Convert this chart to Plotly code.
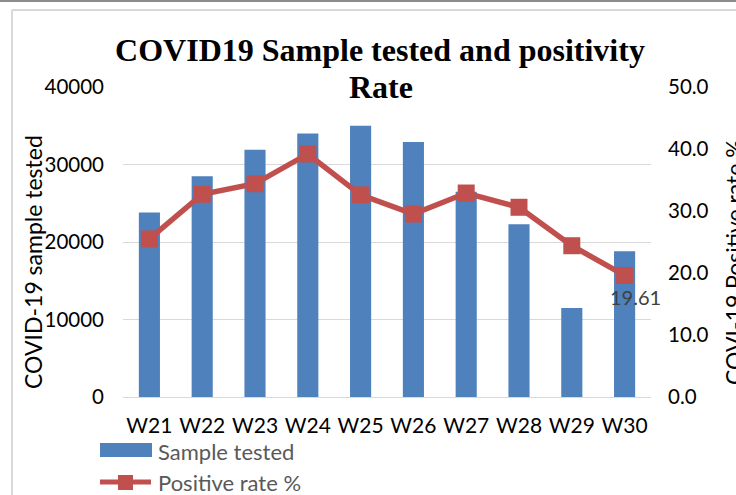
import plotly.graph_objects as go

weeks = ["W21", "W22", "W23", "W24", "W25", "W26", "W27", "W28", "W29", "W30"]
samples_tested = [23800, 28500, 31900, 34000, 35000, 32900, 26500, 22300, 11500, 18800]
positive_rate = [25.5, 32.7, 34.4, 39.2, 32.6, 29.5, 32.9, 30.6, 24.4, 19.61]
left_ticks = [0, 10000, 20000, 30000, 40000]
right_ticks = [0, 10, 20, 30, 40, 50]
last_label = "19.61"

W, H = 736, 495
ML, MR, MT, MB = 123, 85, 87, 98
PW, PH = W - ML - MR, H - MT - MB


def px(x):
    return (x - ML) / PW


def py(y):
    return (H - MB - y) / PH


BLUE = "#4F81BD"
RED = "#C0504D"
GRID = "#D9D9D9"
FONT = "Lato"
TFONT = "Liberation Serif"

fig = go.Figure()
fig.add_trace(go.Bar(
    x=weeks, y=samples_tested, name="Sample tested",
    marker=dict(color=BLUE, line=dict(width=0)), showlegend=False,
))
fig.add_trace(go.Scatter(
    x=weeks, y=positive_rate, name="Positive rate %", yaxis="y2",
    mode="lines+markers",
    line=dict(color=RED, width=5.5),
    marker=dict(symbol="square", size=17, color=RED),
    showlegend=False,
))

shapes = [
    # outer frame
    dict(type="line", xref="paper", yref="paper", x0=px(12), x1=px(740), y0=py(10), y1=py(10),
         line=dict(color=GRID, width=2)),
    dict(type="line", xref="paper", yref="paper", x0=px(12), x1=px(12), y0=py(10), y1=py(500),
         line=dict(color=GRID, width=2)),
    dict(type="line", xref="paper", yref="paper", x0=px(-5), x1=px(740), y0=py(1), y1=py(1),
         line=dict(color="#8C8C8C", width=2)),
    # legend symbols
    dict(type="rect", xref="paper", yref="paper", x0=px(100), x1=px(152), y0=py(457), y1=py(443),
         fillcolor=BLUE, line=dict(width=0)),
    dict(type="line", xref="paper", yref="paper", x0=px(100), x1=px(151), y0=py(482), y1=py(482),
         line=dict(color=RED, width=5)),
    dict(type="rect", xref="paper", yref="paper", x0=px(118), x1=px(133), y0=py(490), y1=py(475),
         fillcolor=RED, line=dict(width=0)),
]

annotations = [
    dict(text="<b>Rate</b>", xref="paper", yref="paper", x=px(381), y=py(87),
         xanchor="center", yanchor="middle", showarrow=False,
         font=dict(family=TFONT, size=32, color="black")),
    dict(text="COVID-19 sample tested", textangle=-90, xref="paper", yref="paper",
         x=px(33), y=py(262), xanchor="center", yanchor="middle", showarrow=False,
         font=dict(family=FONT, size=23, color="black")),
    dict(text="COVI-19 Positive rate %", textangle=-90, xref="paper", yref="paper",
         x=px(718), y=py(262), xanchor="left", yanchor="middle", showarrow=False,
         font=dict(family=FONT, size=23, color="black")),
    dict(text=last_label, x=weeks[-1], y=positive_rate[-1], xref="x", yref="y2",
         xshift=11, yshift=-22, showarrow=False, font=dict(family=FONT, size=20, color="#404040")),
    dict(text="Sample tested", xref="paper", yref="paper", x=px(156), y=py(451),
         xanchor="left", yanchor="middle", showarrow=False,
         font=dict(family=FONT, size=22, color="#595959")),
    dict(text="Positive rate %", xref="paper", yref="paper", x=px(156), y=py(482),
         xanchor="left", yanchor="middle", showarrow=False,
         font=dict(family=FONT, size=22, color="#595959")),
]

fig.update_layout(
    width=W, height=H,
    margin=dict(l=ML, r=MR, t=MT, b=MB, pad=0, autoexpand=False),
    paper_bgcolor="white", plot_bgcolor="white",
    bargap=0.6,
    title=dict(text="<b>COVID19 Sample tested and positivity</b>",
               x=380 / W, xanchor="center", xref="container",
               y=1 - 50 / H, yanchor="middle", yref="container", automargin=False,
               font=dict(family=TFONT, size=32, color="black")),
    xaxis=dict(range=[-0.5, len(weeks) - 0.5], showgrid=False, showline=True, linecolor=GRID,
               linewidth=1, automargin=False,
               ticks="", tickfont=dict(family=FONT, size=21, color="black"),
               ticklabelstandoff=10),
    yaxis=dict(range=[0, 40000], tickvals=left_ticks, tickformat="d", showgrid=True,
               gridcolor=GRID, gridwidth=1, automargin=False,
               zeroline=False, showline=False, ticks="",
               tickfont=dict(family=FONT, size=20.5, color="black"), ticklabelstandoff=18),
    yaxis2=dict(range=[0, 50], tickvals=right_ticks, tickformat=".1f", overlaying="y", side="right",
                showgrid=False, zeroline=False, showline=False, ticks="", automargin=False,
                tickfont=dict(family=FONT, size=20.5, color="black"), ticklabelstandoff=16),
    shapes=shapes,
    annotations=annotations,
)

fig.write_html("out.html", config={"displayModeBar": False},
               post_script="document.body.style.margin='0';document.body.style.overflow='hidden';")
